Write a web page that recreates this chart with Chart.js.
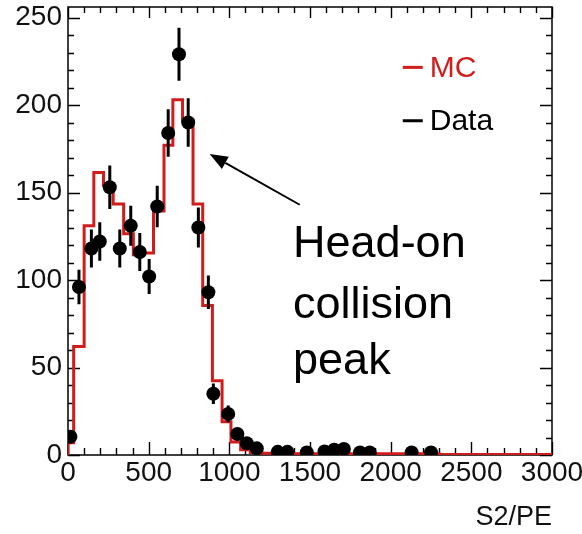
<!DOCTYPE html>
<html>
<head>
<meta charset="utf-8">
<script src="https://cdn.jsdelivr.net/npm/chart.js@4.4.1/dist/chart.umd.min.js"></script>
<style>
  body { margin: 0; background: #fff; }
  canvas { display: block; }
</style>
</head>
<body>
<canvas id="chart" width="582" height="534"></canvas>
<script>
// MC histogram: left bin edges (S2/PE) and bin contents
const mcEdges = [0, 35, 100, 160, 220, 280, 345, 405, 470, 530, 595, 650, 710, 775, 835, 895, 955, 1010, 1070, 1130, 1190, 1250, 2300, 3000]
const mcCounts = [7, 62, 131, 161.5, 154, 143.5, 126.5, 114.5, 115.5, 139.5, 177, 203, 191.5, 143.5, 85.5, 42.5, 19, 7.5, 3, 1.5, 1, 0.7, 0.3]

// Data points with error bars
const dataX = [15, 68, 145, 197, 259, 321, 389, 445, 503, 553, 621, 688, 745, 808, 870, 901, 993, 1050, 1108, 1170, 1300, 1360, 1480, 1590, 1650, 1710, 1810, 1870, 2130, 2250]
const dataY = [10.5, 96, 118, 122, 153, 118, 131, 116, 102, 142, 184, 229, 190, 130, 93, 35, 23.5, 12, 6.7, 3.8, 1.8, 1.8, 1.5, 2, 3, 3.5, 1.5, 1.5, 1.5, 1.5]
const dataErr = [3.2, 9.8, 10.9, 11, 12.4, 10.9, 11.4, 10.8, 10, 11.9, 13.6, 15.1, 13.8, 11.4, 9.6, 5.9, 4.8, 3.5, 2.6, 2, 1.3, 1.3, 1.2, 1.4, 1.7, 1.9, 1.2, 1.2, 1.2, 1.2]

const xTicks = [0, 500, 1000, 1500, 2000, 2500, 3000]
const yTicks = [0, 50, 100, 150, 200, 250]

const legendItems = ['MC', 'Data']
const noteLines = ['Head-on', 'collision', 'peak']

const FONT = '"Liberation Sans", Arial, Helvetica, sans-serif'
const RED = '#d21c1c'

let mcPoints = [{ x: 0, y: 0 }]
for (let i = 0; i < mcCounts.length; i++) {
    mcPoints.push({ x: mcEdges[i], y: mcCounts[i] })
}
mcPoints.push({ x: mcEdges[mcEdges.length - 1], y: mcCounts[mcCounts.length - 1] })

const dataPoints = dataX.map((x, i) => ({ x: x, y: dataY[i] }))

// frame with ROOT-style inward ticks on all four sides
const frame = {
    id: 'frame',
    beforeDatasetsDraw(chart) {
        const { ctx, chartArea: a, scales: { x, y } } = chart
        ctx.save()
        ctx.strokeStyle = '#000'
        ctx.lineWidth = 1.5
        ctx.strokeRect(a.left, a.top, a.right - a.left, a.bottom - a.top)
        ctx.lineWidth = 1.4
        ctx.beginPath()
        for (let v = 0; v <= 3000; v += 100) {
            const px = Math.round(x.getPixelForValue(v)) + 0.5
            const major = v % 500 === 0
            ctx.moveTo(px, a.bottom)
            ctx.lineTo(px, a.bottom - (major ? 13 : 7))
            ctx.moveTo(px, a.top)
            ctx.lineTo(px, a.top + (major ? 11 : 6))
        }
        for (let v = 0; v <= 250; v += 10) {
            const py = Math.round(y.getPixelForValue(v)) + 0.5
            const major = v % 50 === 0
            ctx.moveTo(a.left, py)
            ctx.lineTo(a.left + (major ? 12 : 6), py)
            ctx.moveTo(a.right, py)
            ctx.lineTo(a.right - (major ? 12 : 6), py)
        }
        ctx.stroke()
        ctx.restore()
    }
}

const errorBars = {
    id: 'errorBars',
    afterDatasetsDraw(chart) {
        const { ctx, scales: { x, y } } = chart
        ctx.save()
        ctx.strokeStyle = '#000'
        ctx.lineWidth = 3
        ctx.beginPath()
        for (let i = 0; i < dataX.length; i++) {
            const px = x.getPixelForValue(dataX[i])
            ctx.moveTo(px, y.getPixelForValue(dataY[i] + dataErr[i]))
            ctx.lineTo(px, y.getPixelForValue(Math.max(0, dataY[i] - dataErr[i])))
        }
        ctx.stroke()
        ctx.restore()
    }
}

const notes = {
    id: 'notes',
    afterDraw(chart) {
        const { ctx, scales: { x, y } } = chart
        ctx.save()

        // legend
        const lx = x.getPixelForValue(2075)
        const colors = [RED, '#000']
        const ly = [y.getPixelForValue(221.5), y.getPixelForValue(191)]
        ctx.font = '30px ' + FONT
        ctx.textBaseline = 'middle'
        ctx.textAlign = 'left'
        legendItems.forEach((t, i) => {
            ctx.strokeStyle = colors[i]
            ctx.fillStyle = colors[i]
            ctx.lineWidth = 3
            ctx.beginPath()
            ctx.moveTo(lx, ly[i])
            ctx.lineTo(lx + 20, ly[i])
            ctx.stroke()
            ctx.fillText(t, lx + 27, ly[i] + 1)
        })

        // annotation text
        ctx.fillStyle = '#000'
        ctx.font = '45px ' + FONT
        ctx.textBaseline = 'alphabetic'
        const tx = x.getPixelForValue(1395)
        const baselines = [257, 318, 374]
        noteLines.forEach((t, i) => ctx.fillText(t, tx, baselines[i]))

        // arrow
        const x0 = x.getPixelForValue(1436), y0 = y.getPixelForValue(143)
        const x1 = x.getPixelForValue(878), y1 = y.getPixelForValue(172)
        const ang = Math.atan2(y1 - y0, x1 - x0)
        const hl = 18, hw = 7
        const bx = x1 - hl * Math.cos(ang), by = y1 - hl * Math.sin(ang)
        ctx.strokeStyle = '#000'
        ctx.lineWidth = 2
        ctx.beginPath()
        ctx.moveTo(x0, y0)
        ctx.lineTo(bx, by)
        ctx.stroke()
        ctx.beginPath()
        ctx.moveTo(x1, y1)
        ctx.lineTo(bx + hw * Math.sin(ang), by - hw * Math.cos(ang))
        ctx.lineTo(bx - hw * Math.sin(ang), by + hw * Math.cos(ang))
        ctx.closePath()
        ctx.fillStyle = '#000'
        ctx.fill()

        ctx.restore()
    }
}

const ctx = document.getElementById('chart').getContext('2d')

const chart = new Chart(ctx, {
    type: 'scatter',
    data: {
        datasets: [{
            label: 'Data',
            data: dataPoints,
            showLine: false,
            pointRadius: 7,
            pointBackgroundColor: '#000',
            pointBorderWidth: 0,
            order: 0
        }, {
            label: 'MC',
            data: mcPoints,
            showLine: true,
            stepped: 'before',
            borderColor: RED,
            borderWidth: 3,
            pointRadius: 0,
            fill: false,
            order: 1
        }]
    },
    options: {
        responsive: false,
        animation: false,
        layout: { padding: { top: 7, right: 30, left: 0, bottom: 0 } },
        plugins: {
            legend: { display: false },
            tooltip: { enabled: false }
        },
        scales: {
            x: {
                type: 'linear',
                min: 0,
                max: 3000,
                grid: { display: false, drawTicks: false },
                border: { display: false },
                ticks: {
                    font: { family: FONT, size: 28 },
                    color: '#111',
                    padding: 1,
                    maxRotation: 0,
                    autoSkip: false,
                    callback: v => String(v)
                },
                afterBuildTicks: s => { s.ticks = xTicks.map(v => ({ value: v })) },
                afterFit: s => { s.height = 79; s.paddingLeft = 0; s.paddingRight = 0 },
                title: {
                    display: true,
                    text: 'S2/PE',
                    align: 'end',
                    color: '#111',
                    font: { family: FONT, size: 27 },
                    padding: 0
                }
            },
            y: {
                min: 0,
                max: 256,
                grid: { display: false, drawTicks: false },
                border: { display: false },
                ticks: {
                    font: { family: FONT, size: 28 },
                    color: '#111',
                    padding: 6,
                    callback: v => String(v)
                },
                afterBuildTicks: s => { s.ticks = yTicks.map(v => ({ value: v })) },
                afterFit: s => { s.width = 68; s.paddingTop = 0; s.paddingBottom = 0 }
            }
        }
    },
    plugins: [frame, errorBars, notes]
})
</script>
</body>
</html>
